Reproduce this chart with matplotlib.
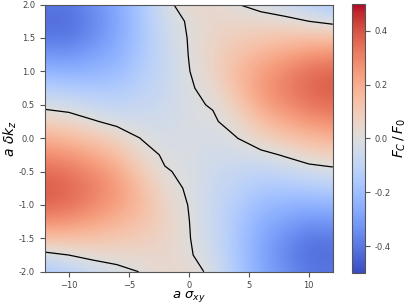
import numpy as np
import matplotlib
matplotlib.use('Agg')
import matplotlib.pyplot as plt

# grid of the map
sigma_xy = np.array([-12, -10, -8, -6, -4, -2, 0, 2, 4, 6, 8, 10, 12])
delta_kz = np.array([2.0, 1.75, 1.5, 1.25, 1.0, 0.75, 0.5, 0.25, 0.0,
                     -0.25, -0.5, -0.75, -1.0, -1.25, -1.5, -1.75, -2.0])

# F_C / F_0, one row per delta_kz value (top row = 2.0)
force = np.array([
    [-0.40, -0.40, -0.34, -0.27, -0.16, -0.03, 0.05, 0.04, 0.003, -0.03, -0.07, -0.12, -0.17],
    [-0.42, -0.42, -0.36, -0.28, -0.17, -0.05, 0.011, 0.05, 0.05, 0.04, 0.03, 0.0, -0.03],
    [-0.39, -0.40, -0.34, -0.27, -0.17, -0.065, 0.005, 0.06, 0.09, 0.11, 0.13, 0.14, 0.14],
    [-0.32, -0.33, -0.29, -0.25, -0.16, -0.07, 0.002, 0.065, 0.13, 0.18, 0.22, 0.26, 0.27],
    [-0.23, -0.25, -0.23, -0.21, -0.14, -0.075, -0.003, 0.06, 0.16, 0.23, 0.29, 0.34, 0.36],
    [-0.13, -0.15, -0.16, -0.16, -0.11, -0.07, -0.01, 0.03, 0.15, 0.25, 0.31, 0.36, 0.38],
    [-0.03, -0.05, -0.08, -0.10, -0.08, -0.06, -0.014, 0.006, 0.10, 0.22, 0.28, 0.33, 0.35],
    [0.08, 0.06, 0.01, -0.03, -0.04, -0.045, -0.018, -0.012, 0.04, 0.15, 0.21, 0.26, 0.28],
    [0.19, 0.16, 0.12, 0.07, -0.002, -0.03, -0.02, -0.03, -0.002, 0.07, 0.12, 0.16, 0.19],
    [0.28, 0.26, 0.21, 0.15, 0.04, -0.012, -0.018, -0.045, -0.04, -0.03, 0.01, 0.06, 0.08],
    [0.35, 0.33, 0.28, 0.22, 0.10, 0.006, -0.014, -0.06, -0.08, -0.10, -0.08, -0.05, -0.03],
    [0.38, 0.36, 0.31, 0.25, 0.15, 0.03, -0.01, -0.07, -0.11, -0.16, -0.16, -0.15, -0.13],
    [0.36, 0.34, 0.29, 0.23, 0.16, 0.06, -0.003, -0.075, -0.14, -0.21, -0.23, -0.25, -0.23],
    [0.27, 0.26, 0.22, 0.18, 0.13, 0.065, 0.002, -0.07, -0.16, -0.25, -0.29, -0.33, -0.32],
    [0.14, 0.14, 0.13, 0.11, 0.09, 0.06, 0.005, -0.065, -0.17, -0.27, -0.34, -0.40, -0.39],
    [-0.03, 0.0, 0.03, 0.04, 0.05, 0.05, 0.011, -0.05, -0.17, -0.28, -0.36, -0.42, -0.42],
    [-0.17, -0.12, -0.07, -0.03, 0.003, 0.04, 0.05, -0.03, -0.16, -0.27, -0.34, -0.40, -0.40],
])

cbar_ticks = [-0.4, -0.2, 0.0, 0.2, 0.4]

plt.rcParams['font.size'] = 6
plt.rcParams['axes.edgecolor'] = '#555555'
plt.rcParams['xtick.color'] = '#555555'
plt.rcParams['ytick.color'] = '#555555'
plt.rcParams['xtick.labelcolor'] = '#444444'
plt.rcParams['ytick.labelcolor'] = '#444444'

fig = plt.figure(figsize=(4.15, 3.05), dpi=100)
ax = fig.add_axes([0.108, 0.109, 0.694, 0.876])
cax = fig.add_axes([0.847, 0.105, 0.032, 0.882])

dx = (sigma_xy[1] - sigma_xy[0]) / 2
dy = (delta_kz[0] - delta_kz[1]) / 2
im = ax.imshow(force, cmap='coolwarm', vmin=-0.5, vmax=0.5, aspect='auto',
               interpolation='bicubic', origin='upper',
               extent=[sigma_xy[0] - dx, sigma_xy[-1] + dx,
                       delta_kz[-1] - dy, delta_kz[0] + dy])
ax.contour(sigma_xy, delta_kz, force, levels=[0], colors='k', linewidths=0.9)

ax.set_xlim(-12, 12)
ax.set_ylim(-2, 2)
ax.set_xticks([-10, -5, 0, 5, 10])
ax.set_yticks(np.arange(-2, 2.01, 0.5))
ax.yaxis.set_major_formatter(plt.FormatStrFormatter('%.1f'))
ax.set_xlabel(r'$a\ \sigma_{xy}$', fontsize=9.5, labelpad=-1)
ax.set_ylabel(r'$a\ \delta k_z$', fontsize=10, labelpad=0)

cb = fig.colorbar(im, cax=cax, ticks=cbar_ticks)
cb.outline.set_edgecolor('#555555')
cb.ax.yaxis.set_major_formatter(plt.FormatStrFormatter('%.1f'))
cb.set_label(r'$F_C\,/\,F_0$', fontsize=10, labelpad=1)

plt.savefig('out.png', dpi=100)
